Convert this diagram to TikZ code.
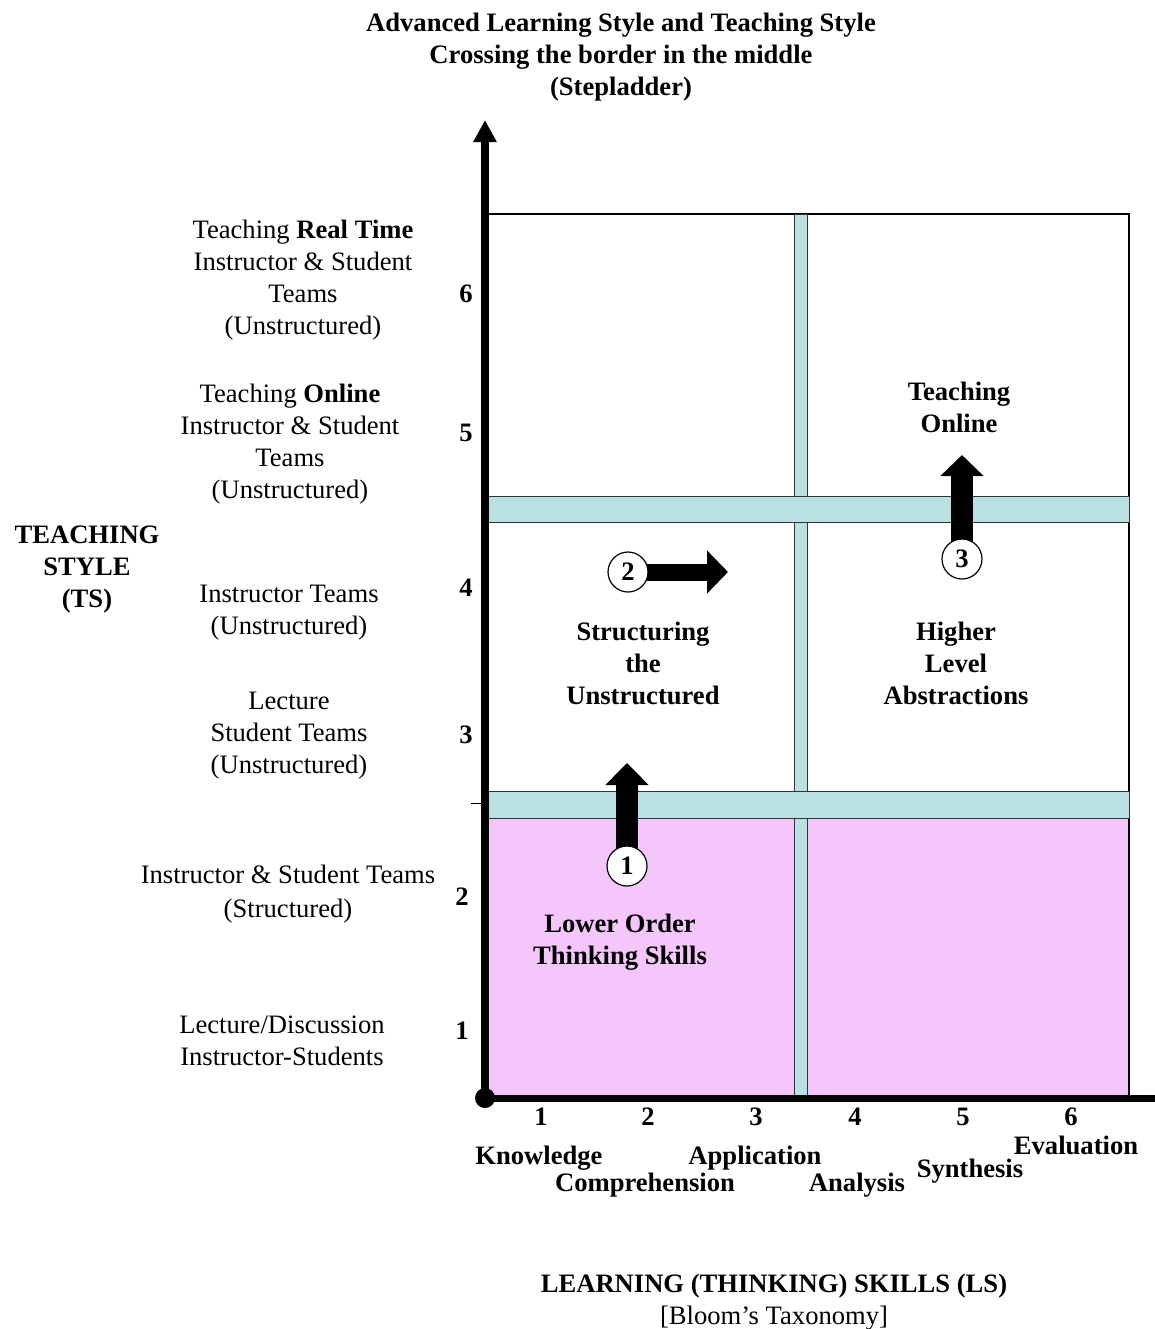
\documentclass[tikz,border=0pt]{standalone}
\usepackage{fontspec}
\setmainfont{Liberation Serif}
\usetikzlibrary{arrows.meta}
\definecolor{bandcyan}{RGB}{187,224,227}
\definecolor{lowpink}{RGB}{245,198,252}
\begin{document}
\begin{tikzpicture}[x=0.5pt,y=-0.5pt,
  lbl/.style={font=\fontsize{13.3}{16}\selectfont, align=center, inner sep=0pt},
  blbl/.style={lbl, font=\fontsize{13.3}{16}\selectfont\bfseries},
  band/.style={fill=bandcyan, draw=black!80, line width=0.5pt},
  num/.style={circle, draw, line width=0.6pt, fill=white, minimum size=20pt, inner sep=0pt,
              font=\fontsize{13.3}{16}\selectfont\bfseries},
  blockarrow/.style={line width=11pt, -{Triangle[width=21pt,length=11pt]}},
  thinarrow/.style={line width=8.5pt, -{Triangle[width=21pt,length=10.5pt]}},
]
\useasboundingbox (0,0) rectangle (1155,1329);

% quadrant field
\fill[lowpink] (487,818) rectangle (1129,1098);
\draw[line width=1pt] (487,214) rectangle (1129,1098);
\draw[band] (794,214) rectangle (807,1098);
\draw[band] (486,496) rectangle (1129,522);
\draw[band] (486,791) rectangle (1129,818);

% axes
\coordinate (origin) at (485,1098);
\coordinate (xend) at (1155,1098);
\coordinate (yend) at (485,120);
\draw[line width=3.5pt] (origin) -- (xend);
\draw[line width=4pt, -{Triangle[width=11pt,length=11pt]}] (origin) -- (yend);
\fill (origin) circle (5pt);
\coordinate (tickL) at (471,803);
\coordinate (tickR) at (481,803);
\draw[line width=0.5pt] (tickL) -- (tickR);

% step arrows
\coordinate (p1) at (627,866);
\coordinate (t1) at (627,763);
\coordinate (p2) at (628,572);
\coordinate (t2) at (728,572);
\coordinate (p3) at (962,559);
\coordinate (t3) at (962,455);
\draw[blockarrow] (p1) -- (t1);
\draw[thinarrow] (p2) -- (t2);
\draw[blockarrow, -{Triangle[width=21pt,length=10.5pt]}] (p3) -- (t3);
\node[num] (c1) at (p1) {1};
\node[num] (c2) at (p2) {2};
\node[num] (c3) at (p3) {3};

% title
\node[blbl] (title) at (621,57) {Advanced Learning Style and Teaching Style\\Crossing the border in the middle\\(Stepladder)};

% teaching style labels
\node[lbl] (ts6) at (303,280) {Teaching \textbf{Real Time}\\Instructor \& Student\\Teams\\(Unstructured)};
\node[lbl] (ts5) at (290,444) {Teaching \textbf{Online}\\Instructor \& Student\\Teams\\(Unstructured)};
\node[blbl] (tsaxis) at (87,570) {TEACHING\\STYLE\\(TS)};
\node[lbl] (ts4) at (289,613) {Instructor Teams\\(Unstructured)};
\node[lbl] (ts3) at (289,736) {Lecture\\Student Teams\\(Unstructured)};
\node[lbl, font=\fontsize{13.3}{17}\selectfont] (ts2) at (288,894) {Instructor \& Student Teams\\(Structured)};
\node[lbl] (ts1) at (282,1041) {Lecture/Discussion\\Instructor-Students};

\node[blbl] (y6) at (466,294) {6};
\node[blbl] (y5) at (466,433) {5};
\node[blbl] (y4) at (466,588) {4};
\node[blbl] (y3) at (466,735) {3};
\node[blbl] (y2) at (462,897) {2};
\node[blbl] (y1) at (462,1031) {1};

% quadrant captions
\node[blbl] (qonline) at (959,407) {Teaching\\Online};
\node[blbl] (qstruct) at (643,663) {Structuring\\the\\Unstructured};
\node[blbl] (qhigher) at (956,663) {Higher\\Level\\Abstractions};
\node[blbl] (qlower) at (620,942) {Lower Order\\Thinking Skills};

% learning skills axis
\node[blbl] (x1) at (541,1117) {1};
\node[blbl] (x2) at (648,1117) {2};
\node[blbl] (x3) at (756,1117) {3};
\node[blbl] (x4) at (855,1117) {4};
\node[blbl] (x5) at (963,1117) {5};
\node[blbl] (x6) at (1071,1117) {6};
\node[blbl] (knowledge) at (539,1158) {Knowledge};
\node[blbl] (comprehension) at (645,1185) {Comprehension};
\node[blbl] (application) at (755,1158) {Application};
\node[blbl] (analysis) at (857,1185) {Analysis};
\node[blbl] (synthesis) at (970,1171) {Synthesis};
\node[blbl] (evaluation) at (1076,1145) {Evaluation};

\node[blbl] (lsaxis) at (774,1286) {LEARNING (THINKING) SKILLS (LS)};
\node[lbl] (bloom) at (774,1318) {[Bloom’s Taxonomy]};
\end{tikzpicture}
\end{document}
